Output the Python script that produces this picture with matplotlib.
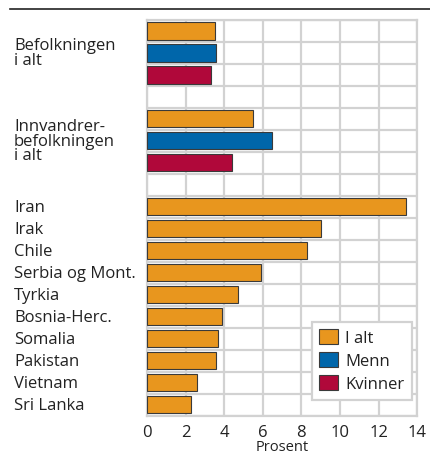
import matplotlib
matplotlib.use('Agg')
import matplotlib.pyplot as plt
import numpy as np

plt.rcParams['font.family'] = ['Open Sans', 'DejaVu Sans']

orange = '#E8961E'
blue = '#0066AA'
red = '#B0083A'
grid_col = '#d2d2d2'
text_col = '#222222'

# rows from top: 3 bars, blank, 3 bars, blank, 10 countries
group_labels = ['Befolkningen\ni alt', 'Innvandrer-\nbefolkningen\ni alt']
befolkningen = [3.5, 3.6, 3.3]      # I alt, Menn, Kvinner
innvandrere = [5.5, 6.5, 4.4]       # I alt, Menn, Kvinner
countries = ['Iran', 'Irak', 'Chile', 'Serbia og Mont.', 'Tyrkia',
             'Bosnia-Herc.', 'Somalia', 'Pakistan', 'Vietnam', 'Sri Lanka']
country_vals = [13.4, 9.0, 8.3, 5.9, 4.7, 3.9, 3.7, 3.6, 2.6, 2.3]
legend_labels = ['I alt', 'Menn', 'Kvinner']
xticks = [0, 2, 4, 6, 8, 10, 12, 14]

fs = 12

fig = plt.figure(figsize=(4.30, 4.56), dpi=100)
ax = fig.add_axes([0.342, 0.0862, 0.628, 0.8684])

sex_cols = [orange, blue, red]
bh = 0.8
edge = dict(edgecolor='#3a3a3a', linewidth=0.8, zorder=3)

rows_a = [0, 1, 2]
rows_b = [4, 5, 6]
rows_c = list(range(8, 18))

for r, v, c in zip(rows_a, befolkningen, sex_cols):
    ax.barh(r, v, height=bh, color=c, **edge)
for r, v, c in zip(rows_b, innvandrere, sex_cols):
    ax.barh(r, v, height=bh, color=c, **edge)
ax.barh(rows_c, country_vals, height=bh, color=orange, **edge)

ax.set_xlim(0, 14)
ax.set_ylim(17.5, -0.5)
ax.set_xticks(xticks)
ax.set_xticklabels([str(t) for t in xticks], fontsize=fs, color=text_col)
ax.set_yticks(np.arange(-0.5, 18, 1))
ax.set_yticklabels([])
ax.tick_params(length=0, pad=6)
ax.grid(True, color=grid_col, linewidth=1.6, zorder=0)
ax.set_axisbelow(True)
for s in ax.spines.values():
    s.set_color(grid_col)
    s.set_linewidth(1.6)
ax.set_xlabel('Prosent', fontsize=10.5, color=text_col, labelpad=-1)

# labels on the left
tx = 14 / 430
def ytofig(row):
    return fig.transFigure.inverted().transform(ax.transData.transform((0, row)))[1]

fig.text(tx, ytofig(1), group_labels[0], fontsize=fs, color=text_col,
         va='center', ha='left', linespacing=0.9)
fig.text(tx, ytofig(5), group_labels[1], fontsize=fs, color=text_col,
         va='center', ha='left', linespacing=0.9)
for r, name in zip(rows_c, countries):
    fig.text(tx, ytofig(r), name, fontsize=fs, color=text_col,
             va='center', ha='left')

# top rule
fig.add_artist(plt.Line2D([10 / 430, 1], [1 - 10 / 456, 1 - 10 / 456],
                          transform=fig.transFigure, color='#222222', linewidth=1.2))

handles = [plt.Rectangle((0, 0), 1, 1, facecolor=c, edgecolor='#3a3a3a', linewidth=0.8)
           for c in sex_cols]
leg = ax.legend(handles, legend_labels, loc='lower right', bbox_to_anchor=(0.98, 0.04),
                fontsize=fs, frameon=True, fancybox=False, handlelength=1.15,
                handleheight=1.0, handletextpad=0.4, labelspacing=0.35,
                borderpad=0.45, borderaxespad=0, framealpha=1)
leg.get_frame().set_edgecolor(grid_col)
leg.get_frame().set_linewidth(1.6)
for t in leg.get_texts():
    t.set_color(text_col)

fig.savefig('out.png', dpi=100)
